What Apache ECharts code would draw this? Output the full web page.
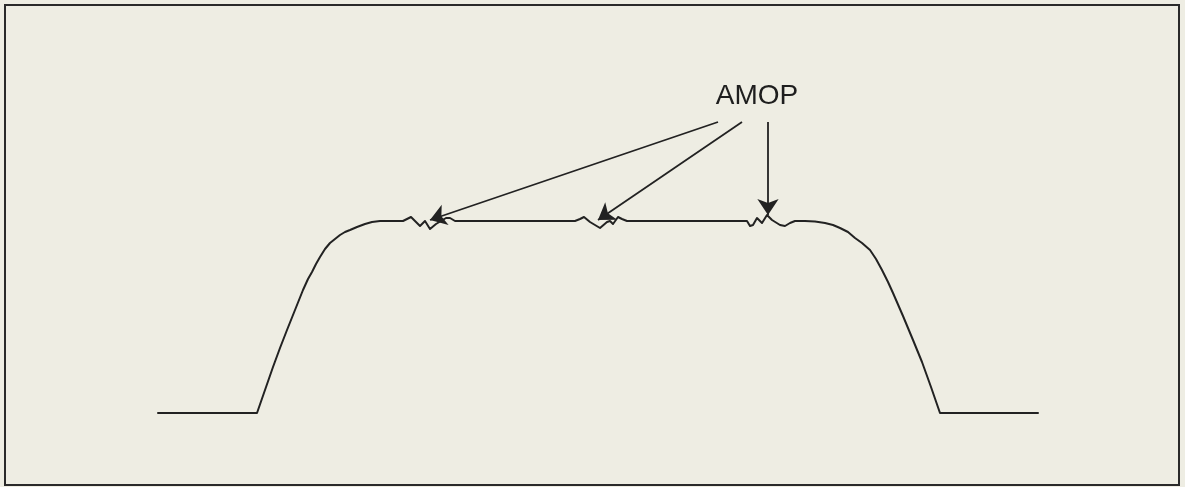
<!DOCTYPE html>
<html>
<head>
<meta charset="utf-8">
<script src="https://cdn.jsdelivr.net/npm/echarts@6/dist/echarts.min.js"></script>
<style>
html,body{margin:0;padding:0;background:#eeede3;}
#chart{width:1185px;height:487px;}
</style>
</head>
<body>
<div id="chart"></div>
<script>
// Pulse waveform (time units, level units; baseline = 0)
const pulseTime = [158,257,265,273,280,287,295,303,308,312,316,320,325,330,335,340,345,350,357,365,372,380,403,407,411,415,420,425,430,436,441,446,450,455,575,580,584,590,600,607,610,613,618,622,627,747,750,753,757,762,767,772,780,785,790,795,805,815,825,833,840,848,855,862,870,876,882,888,893,903,913,922,931,940,1038];
const pulseLevel = [0,0,23,46,65,83,103,123,134,141,149,156,164,170,174,178,181,183,186,189,191,192,192,194,196,192,187,192,184,189,192,195,195,192,192,194,196,191,185,191,192,189,196,194,192,192,187,188,195,190,198,193,188,187,190,192,192,191.5,190,188,185,181,175,170,163,154,143,131,120,97,73,51,26,0,0];

// AMOP label and arrows (start -> tip)
const labelText = 'AMOP';
const labelPos = [757, 317];
const arrowStart = [[718, 291], [742, 291], [768, 291]];
const arrowTip = [[430, 193], [598, 193], [768, 198]];

const chart = echarts.init(document.getElementById('chart'));
const pulseData = pulseTime.map((t, i) => [t, pulseLevel[i]]);
const arrowData = arrowStart.map((s, i) => ({coords: [s, arrowTip[i]]}));

chart.setOption({
  backgroundColor: '#eeede3',
  animation: false,
  grid: {left: 5, right: 6, top: 5, bottom: 2, show: true, borderColor: '#2a2a2a', borderWidth: 2, backgroundColor: 'transparent'},
  xAxis: {type: 'value', min: 5, max: 1179, show: false},
  yAxis: {type: 'value', min: -72, max: 408, show: false},
  series: [
    {
      type: 'line',
      data: pulseData,
      showSymbol: false,
      smooth: false,
      lineStyle: {color: '#222', width: 2, join: 'round', cap: 'round'}
    },
    {
      type: 'lines',
      coordinateSystem: 'cartesian2d',
      data: arrowData,
      symbol: ['none', 'arrow'],
      symbolSize: 16,
      lineStyle: {color: '#222', width: 1.8, opacity: 1}
    },
    {
      type: 'scatter',
      data: [labelPos],
      symbolSize: 1,
      itemStyle: {opacity: 0},
      label: {show: true, position: 'inside', formatter: labelText, color: '#1e1e1e', opacity: 1, fontSize: 28, fontFamily: 'Liberation Sans, Arial, sans-serif'}
    }
  ]
});
</script>
</body>
</html>
